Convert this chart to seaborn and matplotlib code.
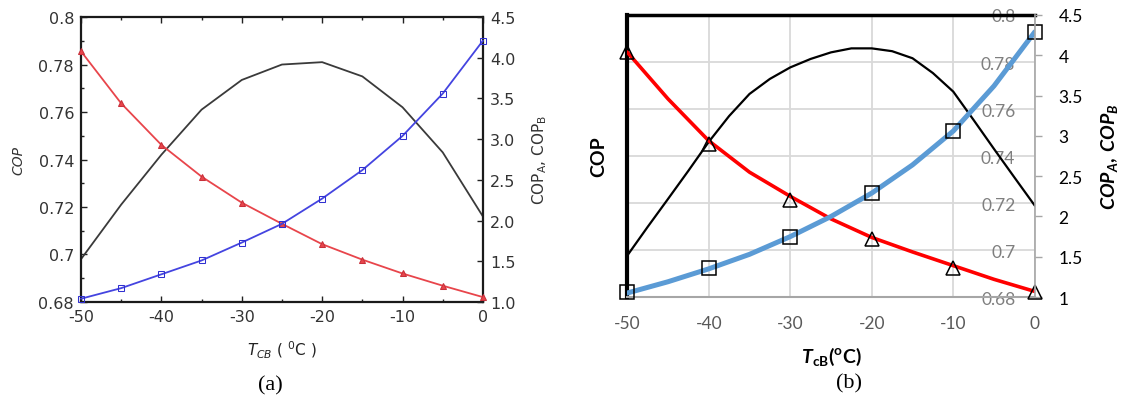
import numpy as np
import matplotlib.pyplot as plt
import seaborn as sns

# panel (a): values every 5 degC
t_a = [-50, -45, -40, -35, -30, -25, -20, -15, -10, -5, 0]
cop_a = [0.698, 0.721, 0.742, 0.761, 0.7735, 0.780, 0.781, 0.775, 0.762, 0.743, 0.716]
cop_red_a = [4.08, 3.44, 2.93, 2.54, 2.22, 1.96, 1.71, 1.52, 1.35, 1.20, 1.06]
cop_blue_a = [1.04, 1.17, 1.34, 1.51, 1.73, 1.96, 2.27, 2.62, 3.04, 3.56, 4.21]

# panel (b): smooth curves, markers every 10 degC
t_cop_b = [-50, -47.5, -45, -42.5, -40, -37.5, -35, -32.5, -30, -27.5, -25,
           -22.5, -20, -17.5, -15, -12.5, -10, -7.5, -5, -2.5, 0]
cop_b = [0.6976, 0.7098, 0.7217, 0.7337, 0.746, 0.757, 0.7664, 0.7728, 0.7777, 0.7813, 0.7841,
         0.7858, 0.7858, 0.7846, 0.7816, 0.7753, 0.7674, 0.7553, 0.743, 0.7309, 0.7189]
t_line_b = [-50, -45, -40, -35, -30, -25, -20, -15, -10, -5, 0]
cop_red_b = [4.04, 3.46, 2.94, 2.55, 2.25, 1.97, 1.74, 1.56, 1.39, 1.22, 1.07]
cop_blue_b = [1.05, 1.19, 1.35, 1.53, 1.75, 2.00, 2.29, 2.64, 3.06, 3.62, 4.29]
t_mark_b = [-50, -40, -30, -20, -10, 0]
tri_b = [4.04, 2.90, 2.20, 1.72, 1.36, 1.06]
sq_b = [1.06, 1.36, 1.75, 2.29, 3.06, 4.29]

x_ticks = [-50, -40, -30, -20, -10, 0]
cop_ticks = [0.68, 0.70, 0.72, 0.74, 0.76, 0.78, 0.80]
copab_ticks = [1.0, 1.5, 2.0, 2.5, 3.0, 3.5, 4.0, 4.5]

sns.set_theme(style='white')
plt.rcParams['font.family'] = ['DejaVu Sans']
plt.rcParams['axes.unicode_minus'] = False
plt.rcParams['mathtext.fontset'] = 'custom'
plt.rcParams['mathtext.rm'] = 'DejaVu Sans'
plt.rcParams['mathtext.it'] = 'DejaVu Sans:italic'
plt.rcParams['mathtext.bf'] = 'Lato:bold'
plt.rcParams['mathtext.bfit'] = 'Lato:bold:italic'

fig = plt.figure(figsize=(11.26, 4.10), dpi=100, facecolor='white')

# ---------------- panel (a) ----------------
ax_a = fig.add_axes([0.0719, 0.261, 0.357, 0.695])
ax_a.set_xlim(-50, 0)
ax_a.set_ylim(0.68, 0.80)
sns.lineplot(x=t_a, y=cop_a, ax=ax_a, color='#3a3a3a', lw=1.3)
ax_a.set_xticks(x_ticks, labels=[f'{v:d}' for v in x_ticks], fontsize=11.5, color='#333333')
ax_a.set_yticks(cop_ticks, labels=[f'{v:g}' for v in cop_ticks], fontsize=11.5, color='#333333')
ax_a.set_xticks([-45, -35, -25, -15, -5], minor=True)
ax_a.set_yticks([0.69, 0.71, 0.73, 0.75, 0.77, 0.79], minor=True)

ax_a2 = ax_a.twinx()
ax_a2.set_ylim(1.0, 4.5)
sns.lineplot(x=t_a, y=cop_red_a, ax=ax_a2, color='#e8454b', lw=1.3,
             marker='^', markersize=4.5, markeredgecolor='#c8303a', markerfacecolor='#e8454b',
             clip_on=False)
sns.lineplot(x=t_a, y=cop_blue_a, ax=ax_a2, color='#4444e0', lw=1.3,
             marker='s', markersize=4.5, markeredgecolor='#3030d0', markerfacecolor='none',
             clip_on=False)
ax_a2.set_yticks(copab_ticks, labels=[f'{v:.1f}' for v in copab_ticks], fontsize=11.5, color='#333333')
ax_a2.tick_params(axis='y', direction='in', length=4, width=1, color='#222222', pad=5)
for s in ax_a2.spines.values():
    s.set_visible(False)

ax_a.tick_params(which='both', direction='in', top=True, bottom=True, left=True, right=False,
                 length=4, width=1, color='#222222', pad=5)
ax_a.tick_params(which='minor', length=2.5)
for s in ax_a.spines.values():
    s.set_color('#1a1a1a')
    s.set_linewidth(1.6)

ax_a.set_ylabel('COP', fontsize=10, style='italic', color='#333333', va='center')
ax_a.yaxis.set_label_coords(-0.155, 0.5)
ax_a2.set_ylabel(r'COP$_\mathrm{A}$, COP$_\mathrm{B}$', fontsize=11, color='#333333', va='center')
ax_a2.yaxis.set_label_coords(1.142, 0.5)
ax_a.set_xlabel(r'$T_{CB}$ ( $^{0}$C )', fontsize=11, color='#222222', va='center')
ax_a.xaxis.set_label_coords(0.5, -0.165)

# ---------------- panel (b) ----------------
ax_b = fig.add_axes([0.557, 0.273, 0.362, 0.688])
ax_b.set_xlim(-50, 0)
ax_b.set_ylim(0.68, 0.80)
ax_b.grid(True, color='#d9d9d9', lw=1.3)
ax_b.set_axisbelow(True)
sns.lineplot(x=t_cop_b, y=cop_b, ax=ax_b, color='black', lw=1.6)
ax_b.set_xticks(x_ticks, labels=[f'{v:d}' for v in x_ticks], fontsize=12.5,
                color='#595959', fontfamily='Lato')
ax_b.set_yticks(cop_ticks, labels=[f'{v:g}' for v in cop_ticks], fontsize=12.5,
                color='#7f7f7f', fontfamily='Lato', ha='right')

ax_b2 = ax_b.twinx()
ax_b2.set_ylim(1.0, 4.5)
sns.lineplot(x=t_line_b, y=cop_red_b, ax=ax_b2, color='#ff0000', lw=2.6)
sns.lineplot(x=t_line_b, y=cop_blue_b, ax=ax_b2, color='#5b9bd5', lw=3.6)
ax_b2.plot(t_mark_b, tri_b, ls='none', marker='^', ms=10, mfc='none', mec='black', mew=1.1,
           clip_on=False)
ax_b2.plot(t_mark_b, sq_b, ls='none', marker='s', ms=10, mfc='none', mec='black', mew=1.1,
           clip_on=False)
ax_b2.set_yticks(copab_ticks, labels=[f'{v:g}' for v in copab_ticks], fontsize=12.5,
                 color='black', fontfamily='Lato')
ax_b2.tick_params(axis='y', direction='out', length=5, width=1, color='#a6a6a6', pad=12)
for k in ['left', 'top', 'bottom']:
    ax_b2.spines[k].set_visible(False)
ax_b2.spines['right'].set_color('#a6a6a6')
ax_b2.spines['right'].set_linewidth(1.2)

# twinx() moves the primary ticks back to the left, so set them after it
ax_b.tick_params(axis='x', length=0, pad=13)
ax_b.tick_params(axis='y', left=False, right=False, labelleft=False, labelright=True,
                 length=0, pad=-14)
for tk in ax_b.yaxis.get_major_ticks():
    tk.label2.set_horizontalalignment('right')
ax_b.spines['left'].set_color('black')
ax_b.spines['left'].set_linewidth(3)
ax_b.spines['top'].set_color('black')
ax_b.spines['top'].set_linewidth(2.5)
ax_b.spines['bottom'].set_color('#a6a6a6')
ax_b.spines['bottom'].set_linewidth(1.5)
ax_b.spines['right'].set_visible(False)

ax_b.set_ylabel('COP', fontsize=14, fontweight='bold', fontfamily='Lato', color='black', va='center')
ax_b.yaxis.set_label_position('left')
ax_b.yaxis.set_label_coords(-0.049, 0.5)
ax_b2.set_ylabel(r'$\mathbfit{COP}_{\mathbfit{A}}\mathbf{,}\ \mathbfit{COP}_{\mathbfit{B}}$',
                 fontsize=14, color='black', va='center')
ax_b2.yaxis.set_label_coords(1.186, 0.5)
ax_b.set_xlabel(r'$\mathbfit{T}_{\mathbf{cB}}\mathbf{(}^{\mathbf{o}}\mathbf{C)}$',
                fontsize=14, color='black', va='center')
ax_b.xaxis.set_label_coords(0.5, -0.209)

# captions
fig.text(270 / 1126, 1 - 386 / 410, '(a)', ha='center', va='center',
         fontsize=16, fontfamily='Liberation Serif', color='black')
fig.text(849 / 1126, 1 - 384 / 410, '(b)', ha='center', va='center',
         fontsize=16, fontfamily='Liberation Serif', color='black')

fig.savefig('out.png', dpi=100, facecolor='white')
